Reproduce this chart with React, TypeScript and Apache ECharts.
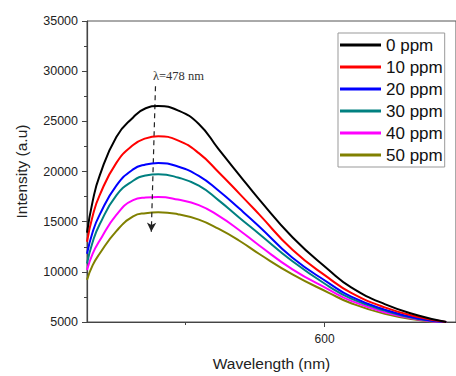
import React, { useEffect, useRef } from "react";
import * as echarts from "echarts";

const wavelengths = [430, 434, 439, 451, 463, 472, 481, 495, 510, 524, 539, 553, 577, 603, 619, 643, 667, 687];
const ppm0 = [13900, 17000, 19560, 23450, 25390, 26300, 26525, 26100, 24740, 22250, 19650, 17250, 13450, 10180, 8450, 6780, 5650, 5000];
const ppm10 = [13000, 15550, 17620, 20860, 22640, 23300, 23515, 23100, 21830, 19950, 17800, 15750, 12200, 9370, 7910, 6460, 5490, 5000];
const ppm20 = [11800, 13950, 15680, 18590, 20210, 20700, 20855, 20500, 19560, 18100, 16300, 14550, 11400, 8880, 7520, 6230, 5350, 5000];
const ppm30 = [10830, 12950, 14710, 17620, 19080, 19600, 19728, 19400, 18590, 17150, 15400, 13800, 11050, 8560, 7330, 6130, 5300, 5000];
const ppm40 = [10180, 11800, 13090, 15680, 17140, 17400, 17460, 17200, 16650, 15600, 14150, 12650, 10250, 8230, 7100, 5970, 5250, 4950];
const ppm50 = [9200, 10650, 11800, 14060, 15520, 15850, 15940, 15750, 15200, 14300, 13100, 11800, 9750, 7910, 6870, 5810, 5200, 4950];

const seriesNames = ["0 ppm", "10 ppm", "20 ppm", "30 ppm", "40 ppm", "50 ppm"];
const seriesValues = [ppm0, ppm10, ppm20, ppm30, ppm40, ppm50];
const seriesColors = ["#000000", "#ff0000", "#0000ff", "#008080", "#ff00ff", "#808000"];

const xTickLabels = [600];
const xMinorTicks = [500];
const arrowStart = [479, 28500];
const arrowEnd = [476, 14000];
const annotationText = "λ=478 nm";

const SANS = "'Liberation Sans', Arial, sans-serif";
const SERIF = "'Liberation Serif', 'Times New Roman', serif";

export default function App() {
  const ref = useRef<HTMLDivElement>(null);
  useEffect(() => {
    if (!ref.current) return;
    const chart = echarts.init(ref.current, undefined, { renderer: "svg" });
    const series: any[] = seriesNames.map((name, i) => ({
      name,
      type: "line",
      data: wavelengths.map((w, j) => [w, seriesValues[i][j]]),
      smooth: 0.5,
      symbol: "none",
      lineStyle: { color: seriesColors[i], width: 2 },
      itemStyle: { color: seriesColors[i] },
      z: 3 + (5 - i),
    }));
    series[0].markLine = {
      silent: true,
      symbol: ["none", "arrow"],
      symbolSize: [7, 9],
      label: { show: false },
      lineStyle: { type: [5, 4], color: "#222", width: 1.2 },
      data: [[{ coord: arrowStart }, { coord: arrowEnd }]],
    };
    chart.setOption({
      animation: false,
      backgroundColor: "#ffffff",
      grid: {
        left: 87,
        top: 21,
        width: 371,
        height: 309,
        show: true,
        borderColor: "#555",
        borderWidth: 1,
      },
      legend: {
        orient: "vertical",
        left: 338,
        top: 33,
        padding: [3, 2, 3, 2],
        icon: "rect",
        itemWidth: 41,
        itemHeight: 3,
        itemGap: 4,
        borderColor: "#999",
        borderWidth: 1,
        backgroundColor: "#fff",
        data: seriesNames,
        textStyle: { fontFamily: SANS, fontSize: 17, color: "#111", lineHeight: 18 },
      },
      xAxis: [
        {
          type: "value",
          min: 430,
          max: 694,
          axisLine: { show: true, lineStyle: { color: "#444", width: 1.2 } },
          axisTick: { show: true, customValues: xTickLabels, length: 5, lineStyle: { color: "#444" } },
          axisLabel: { customValues: xTickLabels, fontFamily: SANS, fontSize: 12, color: "#222", margin: 11 },
          splitLine: { show: false },
          name: "Wavelength (nm)",
          nameLocation: "middle",
          nameGap: 33,
          nameTextStyle: { fontFamily: SANS, fontSize: 15.5, color: "#222" },
        },
        {
          type: "value",
          position: "bottom",
          min: 430,
          max: 694,
          axisLine: { show: false },
          axisTick: { show: true, customValues: xMinorTicks, length: 3, lineStyle: { color: "#444" } },
          axisLabel: { show: false },
          splitLine: { show: false },
        },
      ],
      yAxis: {
        type: "value",
        min: 5000,
        max: 35000,
        interval: 5000,
        axisLine: { show: true, lineStyle: { color: "#444", width: 1.2 } },
        axisTick: { show: true, length: 5, lineStyle: { color: "#444" } },
        minorTick: { show: true, splitNumber: 2, length: 3, lineStyle: { color: "#444" } },
        axisLabel: {
          fontFamily: SANS,
          fontSize: 12.5,
          color: "#222",
          margin: 9,
          formatter: (v: number) => String(v),
        },
        splitLine: { show: false },
        name: "Intensity (a.u)",
        nameLocation: "middle",
        nameGap: 58,
        nameTextStyle: { fontFamily: SANS, fontSize: 15.5, color: "#222" },
      },
      graphic: [
        {
          type: "text",
          left: 153,
          top: 69,
          style: { text: annotationText, font: `12.5px ${SERIF}`, fill: "#333" },
        },
      ],
      series,
    });
    return () => chart.dispose();
  }, []);
  return (
    <div
      ref={ref}
      style={{ position: "fixed", left: 0, top: 0, width: 456, height: 376, background: "#fff" }}
    />
  );
}
